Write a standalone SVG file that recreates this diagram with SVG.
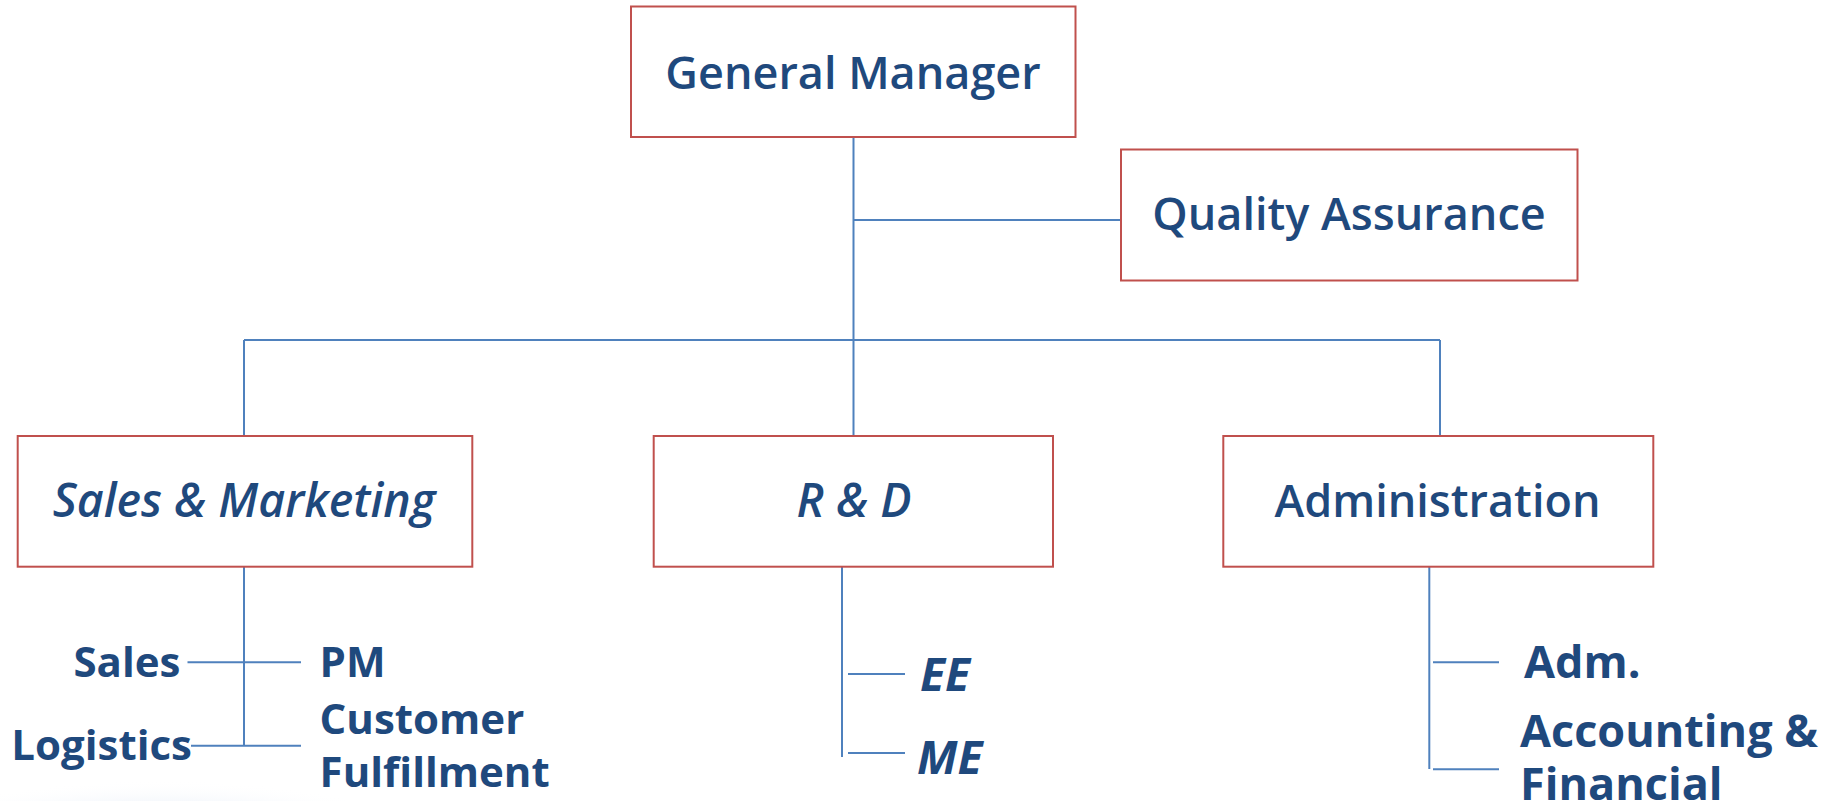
<svg xmlns="http://www.w3.org/2000/svg" width="1830" height="801" viewBox="0 0 1830 801">
<defs>
<radialGradient id="glow" cx="0.5" cy="0.5" r="0.5">
<stop offset="0" stop-color="#dfe8f4"/>
<stop offset="0.7" stop-color="#eef3fa"/>
<stop offset="1" stop-color="#ffffff" stop-opacity="0"/>
</radialGradient>
</defs>
<style>
.box{fill:#ffffff;stroke:#C0504D;stroke-width:2}
.lbl{font-family:"Open Sans","Noto Sans","Liberation Sans",sans-serif;font-weight:600;font-size:45px;fill:#1F497D}
.sub{font-family:"Open Sans","Noto Sans","Liberation Sans",sans-serif;font-weight:700;font-size:42px;fill:#1F497D}
.big{font-size:45px}
.it{font-style:italic;font-size:46.5px}
.sit{font-style:italic;font-size:46px}
.con{stroke:#4F81BD;stroke-width:2;fill:none}
</style>
<rect width="1830" height="801" fill="#ffffff"/>
<ellipse cx="160" cy="880" rx="330" ry="100" fill="url(#glow)"/>
<g id="connectors">
<path class="con" d="M853.5 137 V436"/>
<path class="con" d="M853.5 220 H1121"/>
<path class="con" d="M244 340 H1440"/>
<path class="con" d="M244 340 V436"/>
<path class="con" d="M1440 340 V436"/>
<path class="con" d="M244 567 V745.7"/>
<path class="con" d="M187.5 662.3 H301"/>
<path class="con" d="M191 745.7 H301"/>
<path class="con" d="M842 567 V757"/>
<path class="con" d="M848 674 H905"/>
<path class="con" d="M848 753 H905"/>
<path class="con" d="M1429.3 567 V769"/>
<path class="con" d="M1433 662.3 H1499"/>
<path class="con" d="M1433 769.3 H1499"/>
</g>
<g id="gm">
<rect class="box" x="631" y="6.5" width="444.5" height="130.5"/>
<text class="lbl" x="853" y="89" text-anchor="middle">General Manager</text>
</g>
<g id="qa">
<rect class="box" x="1121" y="149.5" width="456.5" height="131"/>
<text class="lbl" x="1349" y="230" text-anchor="middle">Quality Assurance</text>
</g>
<g id="sm">
<rect class="box" x="17.7" y="436" width="454.6" height="130.7"/>
<text class="lbl it" x="244" y="517" text-anchor="middle">Sales &amp; Marketing</text>
</g>
<g id="rd">
<rect class="box" x="653.7" y="436" width="399.3" height="130.7"/>
<text class="lbl it" x="854" y="517" text-anchor="middle">R &amp; D</text>
</g>
<g id="admin">
<rect class="box" x="1223.3" y="436" width="430" height="130.7"/>
<text class="lbl" x="1437.5" y="516.7" text-anchor="middle">Administration</text>
</g>
<g id="sales"><text class="sub" x="180.4" y="676.7" text-anchor="end">Sales</text></g>
<g id="pm"><text class="sub" x="319.6" y="676.7">PM</text></g>
<g id="logistics"><text class="sub" x="192" y="759.5" text-anchor="end">Logistics</text></g>
<g id="cf"><text class="sub" x="319.6" y="734">Customer</text><text class="sub" x="319.6" y="786.7">Fulfillment</text></g>
<g id="ee"><text class="sub sit" x="920" y="691">EE</text></g>
<g id="me"><text class="sub sit" x="917" y="774">ME</text></g>
<g id="adm"><text class="sub big" x="1524" y="678.3">Adm.</text></g>
<g id="acc"><text class="sub big" x="1520" y="746.7">Accounting &amp;</text><text class="sub big" x="1520" y="799.5">Financial</text></g>
</svg>
